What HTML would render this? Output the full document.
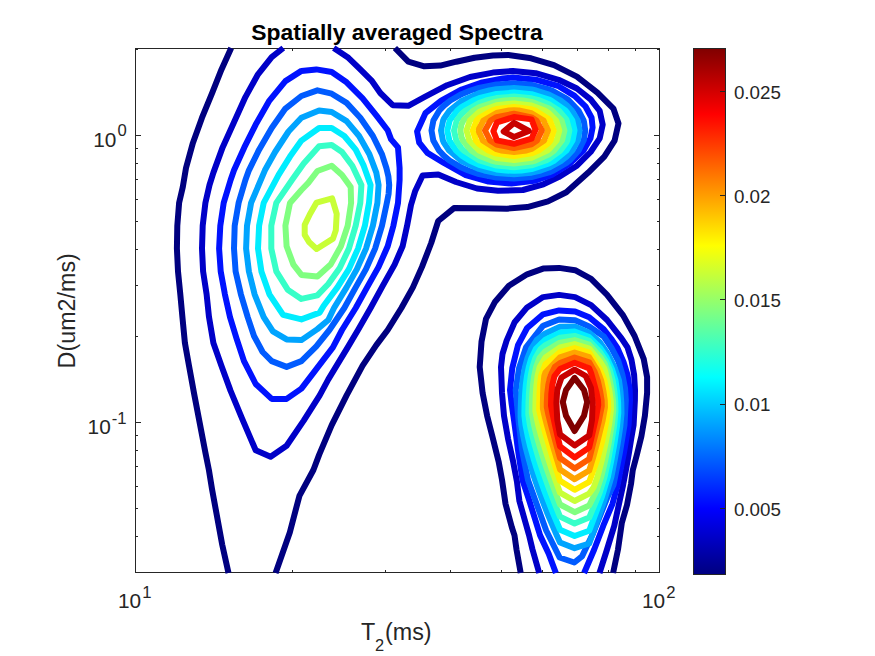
<!DOCTYPE html>
<html><head><meta charset="utf-8"><title>Spatially averaged Spectra</title>
<style>
html,body{margin:0;padding:0;background:#fff;}
body{width:875px;height:656px;overflow:hidden;font-family:"Liberation Sans",sans-serif;}
svg{display:block}
text{font-family:"Liberation Sans",sans-serif;fill:#262626}
.t{font-size:20.83px}
.cb{font-size:18.75px}
.s{font-size:16.67px}
.l{font-size:23.3px}
.sub{font-size:16.4px}
.ttl{font-size:22.9px;font-weight:bold;fill:#000}
.c{fill:none;stroke-width:6;stroke-linejoin:round;stroke-linecap:butt}
</style></head><body>
<svg width="875" height="656" viewBox="0 0 875 656">
<defs>
<linearGradient id="jet" x1="0" y1="0" x2="0" y2="1"><stop offset="0.0000" stop-color="rgb(128, 0, 0)"/><stop offset="0.0312" stop-color="rgb(159, 0, 0)"/><stop offset="0.0625" stop-color="rgb(191, 0, 0)"/><stop offset="0.0938" stop-color="rgb(223, 0, 0)"/><stop offset="0.1250" stop-color="rgb(255, 0, 0)"/><stop offset="0.1562" stop-color="rgb(255, 32, 0)"/><stop offset="0.1875" stop-color="rgb(255, 64, 0)"/><stop offset="0.2188" stop-color="rgb(255, 96, 0)"/><stop offset="0.2500" stop-color="rgb(255, 128, 0)"/><stop offset="0.2812" stop-color="rgb(255, 159, 0)"/><stop offset="0.3125" stop-color="rgb(255, 191, 0)"/><stop offset="0.3438" stop-color="rgb(255, 223, 0)"/><stop offset="0.3750" stop-color="rgb(255, 255, 0)"/><stop offset="0.4062" stop-color="rgb(223, 255, 32)"/><stop offset="0.4375" stop-color="rgb(191, 255, 64)"/><stop offset="0.4688" stop-color="rgb(159, 255, 96)"/><stop offset="0.5000" stop-color="rgb(128, 255, 128)"/><stop offset="0.5312" stop-color="rgb(96, 255, 159)"/><stop offset="0.5625" stop-color="rgb(64, 255, 191)"/><stop offset="0.5938" stop-color="rgb(32, 255, 223)"/><stop offset="0.6250" stop-color="rgb(0, 255, 255)"/><stop offset="0.6562" stop-color="rgb(0, 223, 255)"/><stop offset="0.6875" stop-color="rgb(0, 191, 255)"/><stop offset="0.7188" stop-color="rgb(0, 159, 255)"/><stop offset="0.7500" stop-color="rgb(0, 128, 255)"/><stop offset="0.7812" stop-color="rgb(0, 96, 255)"/><stop offset="0.8125" stop-color="rgb(0, 64, 255)"/><stop offset="0.8438" stop-color="rgb(0, 32, 255)"/><stop offset="0.8750" stop-color="rgb(0, 0, 255)"/><stop offset="0.9062" stop-color="rgb(0, 0, 223)"/><stop offset="0.9375" stop-color="rgb(0, 0, 191)"/><stop offset="0.9688" stop-color="rgb(0, 0, 159)"/><stop offset="1.0000" stop-color="rgb(0, 0, 128)"/></linearGradient>
<clipPath id="ax"><rect x="134.5" y="44.5" width="526.0" height="532.0"/></clipPath>
</defs>
<rect x="0" y="0" width="875" height="656" fill="#fff"/>
<rect x="135.5" y="48.5" width="524.0" height="524.0" fill="none" stroke="#262626" stroke-width="1" shape-rendering="crispEdges"/>
<path d="M292.5 572.5v-2.7M292.5 48.5v2.7M385.5 572.5v-2.7M385.5 48.5v2.7M450.5 572.5v-2.7M450.5 48.5v2.7M501.5 572.5v-2.7M501.5 48.5v2.7M542.5 572.5v-2.7M542.5 48.5v2.7M577.5 572.5v-2.7M577.5 48.5v2.7M608.5 572.5v-2.7M608.5 48.5v2.7M635.5 572.5v-2.7M635.5 48.5v2.7M135.5 572.5h2.7M659.5 572.5h-2.7M135.5 536.5h2.7M659.5 536.5h-2.7M135.5 508.5h2.7M659.5 508.5h-2.7M135.5 486.5h2.7M659.5 486.5h-2.7M135.5 466.5h2.7M659.5 466.5h-2.7M135.5 450.5h2.7M659.5 450.5h-2.7M135.5 435.5h2.7M659.5 435.5h-2.7M135.5 336.5h2.7M659.5 336.5h-2.7M135.5 285.5h2.7M659.5 285.5h-2.7M135.5 249.5h2.7M659.5 249.5h-2.7M135.5 221.5h2.7M659.5 221.5h-2.7M135.5 199.5h2.7M659.5 199.5h-2.7M135.5 179.5h2.7M659.5 179.5h-2.7M135.5 163.5h2.7M659.5 163.5h-2.7M135.5 148.5h2.7M659.5 148.5h-2.7M135.5 49.5h2.7M659.5 49.5h-2.7M135.5 422.5h5.5M659.5 422.5h-5.5M135.5 135.5h5.5M659.5 135.5h-5.5" stroke="#262626" stroke-width="1" fill="none" shape-rendering="crispEdges"/>
<g clip-path="url(#ax)">
<path class="c" stroke="#000080" d="M231.2 48.0 L221.4 69.7 L212.3 92.6 L202.0 117.7 L192.9 142.9 L186.0 168.0 L182.8 187.0 L179.1 202.9 L177.3 225.7 L176.9 248.6 L178.0 271.4 L180.3 294.3 L182.5 318.0 L184.9 342.9 L189.0 365.7 L194.0 393.1 L199.7 422.9 L205.4 452.6 L208.9 470.0 L212.0 489.0 L222.2 544.6 L228.5 573.0"/>
<path class="c" stroke="#000080" d="M394.9 48.0 L408.3 61.7 L424.3 66.3 L440.3 65.6 L456.3 61.7 L474.6 57.8 L492.9 55.5 L508.3 54.9 L531.1 58.3 L554.0 65.1 L576.9 76.6 L597.4 92.6 L613.4 108.6 L618.5 123.4 L614.6 140.6 L604.3 156.6 L588.3 172.6 L566.3 192.3 L548.0 201.4 L527.4 207.1 L506.9 208.7 L481.7 208.3 L454.0 208.1 L438.2 221.0 L431.2 243.0 L422.0 266.9 L412.9 287.4 L401.4 308.0 L387.7 330.0 L376.3 345.1 L362.6 365.7 L346.6 395.4 L331.7 425.1 L319.1 454.9 L313.4 470.0 L299.4 495.9 L289.8 532.4 L275.6 573.0"/>
<path class="c" stroke="#000080" d="M520.7 573.0 L516.5 549.5 L514.5 535.4 L511.9 527.5 L505.5 503.8 L502.0 479.7 L498.6 461.4 L492.9 438.6 L487.1 415.7 L482.6 392.9 L479.7 367.0 L481.5 341.7 L486.0 318.8 L495.1 301.7 L508.9 285.7 L527.1 274.3 L543.1 268.6 L559.1 267.9 L575.1 270.2 L591.1 278.9 L607.1 294.9 L623.1 315.4 L634.6 336.0 L643.7 358.9 L647.1 377.1 L647.1 392.9 L644.9 415.7 L641.4 436.3 L636.9 454.6 L632.7 470.6 L631.0 484.0 L627.0 505.0 L621.8 523.0 L618.0 549.5 L613.1 573.0"/>
<path class="c" stroke="#0000c8" d="M283.3 48.0 L271.7 57.1 L258.0 74.3 L245.4 97.1 L234.0 122.3 L222.6 147.4 L213.4 172.6 L209.5 185.0 L205.4 202.9 L202.7 225.7 L202.0 248.6 L203.1 271.4 L206.6 294.3 L209.0 317.1 L213.4 342.9 L221.4 365.7 L230.6 390.9 L242.0 418.3 L255.7 450.3 L270.6 456.7 L286.6 445.7 L303.7 420.6 L319.7 395.4 L328.3 379.4 L347.7 347.4 L358.0 330.0 L370.6 308.0 L383.1 285.1 L394.6 264.6 L402.6 246.3 L407.1 225.7 L411.0 205.0 L415.1 191.3 L422.6 175.5 L438.3 174.5 L456.0 182.0 L477.0 188.5 L498.0 190.8 L522.9 190.0 L543.4 184.3 L558.6 177.1 L576.9 165.7 L590.6 152.0 L599.7 138.3 L602.7 124.6 L599.7 110.9 L590.6 99.4 L576.9 88.5 L558.6 79.8 L535.7 73.2 L512.9 70.9 L492.9 72.6 L470.0 77.0 L447.1 85.2 L424.3 97.1 L408.3 105.8 L392.7 105.2 L380.3 93.0 L372.1 81.2 L359.8 68.8 L348.4 57.8 L333.7 48.0"/>
<path class="c" stroke="#0000c8" d="M539.2 573.0 L532.5 549.5 L529.1 535.4 L525.6 523.0 L519.4 501.0 L517.0 482.0 L513.0 461.0 L508.0 438.6 L504.0 415.7 L502.0 392.9 L501.0 367.0 L502.5 354.0 L506.6 340.6 L514.6 322.3 L527.1 307.4 L543.1 297.1 L559.1 294.9 L575.1 297.1 L591.1 305.1 L607.1 320.0 L621.5 338.3 L627.5 347.4 L631.5 360.0 L634.1 374.8 L635.0 390.0 L634.9 400.0 L633.6 425.0 L631.0 440.0 L629.0 452.4 L626.3 468.0 L623.1 485.0 L619.0 503.8 L614.3 525.7 L607.0 549.5 L599.5 573.0"/>
<path class="c" stroke="#0012ff" d="M316.3 69.4 L301.4 70.9 L285.4 81.1 L269.4 100.6 L255.7 124.6 L244.3 147.4 L234.0 170.3 L230.6 180.0 L223.7 202.9 L220.3 225.7 L219.1 248.6 L220.7 271.4 L224.9 294.3 L230.0 317.1 L236.5 338.3 L244.0 361.1 L255.7 384.0 L271.7 398.9 L286.6 398.9 L301.4 388.6 L316.3 369.1 L332.9 347.4 L342.0 330.0 L355.7 308.0 L367.1 287.4 L378.6 266.9 L387.7 246.3 L393.4 225.7 L398.0 202.9 L399.6 180.0 L399.6 168.0 L398.0 147.4 L391.1 139.4 L387.7 130.3 L376.3 115.4 L362.6 98.3 L346.6 82.3 L331.7 72.0 Z"/>
<path class="c" stroke="#0012ff" d="M417.1 131.5 L425.4 113.2 L441.2 100.6 L461.7 89.5 L482.3 82.4 L502.9 78.4 L512.9 77.5 L535.7 79.7 L558.6 86.2 L574.6 95.9 L585.4 106.3 L591.6 117.7 L592.6 127.5 L590.5 138.3 L583.2 150.9 L570.0 163.4 L551.7 174.9 L534.3 180.8 L511.4 183.6 L488.6 181.6 L465.7 175.1 L443.9 163.0 L427.4 152.9 L419.2 142.6 Z"/>
<path class="c" stroke="#0012ff" d="M555.9 573.0 L548.7 553.7 L540.1 535.4 L529.1 500.0 L522.5 480.0 L518.0 450.0 L514.0 420.0 L511.5 403.0 L510.0 390.0 L512.3 368.0 L518.0 345.1 L527.1 328.0 L543.1 314.3 L559.1 310.4 L575.1 311.5 L589.2 317.2 L603.8 329.4 L611.0 338.5 L617.4 348.0 L623.5 362.0 L627.5 374.8 L629.7 390.0 L630.0 400.0 L628.6 425.0 L624.0 452.4 L620.5 470.0 L617.6 485.0 L612.5 503.8 L603.3 525.7 L594.2 549.5 L584.1 573.0"/>
<path class="c" stroke="#005bff" d="M317.4 90.3 L301.4 96.0 L285.4 108.6 L271.7 128.0 L259.1 149.7 L248.9 170.3 L245.4 180.0 L238.6 202.9 L234.7 225.7 L234.0 248.6 L235.6 271.4 L240.9 294.3 L247.7 317.1 L254.0 336.0 L262.6 352.0 L271.7 361.1 L286.6 366.9 L301.4 361.1 L316.3 346.3 L329.4 330.0 L344.3 308.0 L355.7 287.4 L366.0 269.1 L375.1 248.6 L382.0 225.7 L386.6 204.0 L388.6 194.0 L389.2 185.0 L388.4 176.5 L386.4 168.0 L382.0 154.3 L372.9 136.0 L360.3 117.7 L346.6 102.9 L331.7 93.7 Z"/>
<path class="c" stroke="#005bff" d="M585.2 130.5 L584.0 139.3 L583.6 140.5 L578.7 150.5 L569.7 160.5 L566.5 163.0 L553.5 170.5 L549.0 172.4 L531.5 177.1 L514.0 178.6 L496.5 177.5 L479.0 174.1 L468.2 170.5 L461.5 167.6 L449.5 160.5 L444.0 155.9 L439.0 150.5 L433.3 140.5 L431.5 130.5 L433.4 120.5 L439.3 110.5 L444.0 105.6 L450.4 100.5 L461.5 94.2 L470.5 90.5 L479.0 87.9 L496.5 84.5 L514.0 83.4 L531.5 84.8 L549.0 89.5 L551.6 90.5 L566.5 98.7 L568.9 100.5 L578.4 110.5 L583.6 120.5 L584.0 121.9 Z"/>
<path class="c" stroke="#005bff" d="M574.3 562.5 L559.6 557.5 L546.2 530.5 L535.2 500.0 L528.0 480.0 L522.0 450.0 L518.5 420.0 L516.9 403.0 L515.7 390.0 L519.1 368.0 L526.0 347.4 L543.1 325.7 L559.1 319.5 L575.1 320.3 L589.2 326.5 L603.8 336.5 L611.5 348.0 L618.3 361.0 L622.4 374.8 L625.0 388.0 L625.8 400.0 L624.5 425.0 L619.9 452.4 L616.5 470.0 L613.5 485.0 L607.0 498.3 L599.7 516.6 L592.4 534.8 L582.0 556.4 Z"/>
<path class="c" stroke="#00a4ff" d="M319.1 110.4 L301.4 117.8 L288.5 131.5 L275.1 152.0 L264.9 170.3 L251.1 202.9 L247.0 225.7 L246.1 248.6 L248.9 271.4 L254.6 294.3 L263.7 317.1 L272.9 331.4 L286.6 339.4 L301.4 340.1 L317.4 329.1 L328.3 320.0 L334.0 308.0 L346.6 287.4 L356.9 269.1 L366.0 248.6 L372.9 225.7 L377.4 202.9 L378.6 185.0 L376.3 172.6 L369.4 154.3 L359.1 136.0 L346.6 121.1 L331.7 112.0 Z"/>
<path class="c" stroke="#00a4ff" d="M579.5 130.5 L577.8 140.5 L572.3 150.5 L566.5 156.7 L561.7 160.5 L549.0 167.5 L540.7 170.5 L531.5 172.7 L514.0 174.3 L496.5 173.0 L484.3 170.5 L479.0 168.9 L461.5 160.9 L449.1 150.5 L444.0 142.9 L442.9 140.5 L441.0 130.5 L443.1 120.5 L444.0 118.5 L449.6 110.5 L461.5 101.0 L479.0 93.2 L489.3 90.5 L496.5 89.2 L514.0 88.0 L531.5 89.5 L536.1 90.5 L549.0 94.6 L560.4 100.5 L566.5 105.1 L571.8 110.5 L577.7 120.5 Z"/>
<path class="c" stroke="#00a4ff" d="M574.6 326.4 L589.2 332.8 L592.9 336.1 L600.2 342.6 L607.4 353.1 L614.7 367.6 L619.0 380.5 L620.5 391.7 L621.3 402.8 L621.5 413.6 L620.2 427.4 L617.6 444.0 L614.6 460.5 L611.4 476.9 L604.6 499.6 L594.4 528.9 L589.2 543.5 L574.6 548.2 L560.0 542.5 L556.6 535.0 L551.9 524.0 L547.3 513.0 L545.4 508.2 L543.0 502.0 L538.9 491.0 L535.1 480.0 L531.6 469.0 L530.8 466.4 L528.4 458.0 L525.5 447.0 L523.2 436.0 L521.3 425.0 L520.6 417.0 L520.6 412.0 L520.9 403.0 L521.3 394.0 L522.1 385.0 L523.3 376.0 L525.0 367.0 L527.5 358.0 L531.1 349.0 L536.9 340.0 L545.4 333.5 L560.0 326.7 Z"/>
<path class="c" stroke="#00edff" d="M319.1 128.0 L301.4 140.6 L290.0 156.6 L278.6 174.9 L263.7 202.9 L259.1 225.7 L258.0 248.6 L261.4 271.4 L269.4 294.3 L283.1 314.9 L301.4 319.4 L319.7 312.6 L323.7 305.7 L337.4 287.4 L348.9 269.1 L358.0 248.6 L364.9 225.7 L369.0 202.9 L370.6 185.0 L363.7 165.7 L355.7 149.7 L344.3 136.0 L331.7 128.0 Z"/>
<path class="c" stroke="#00edff" d="M574.5 130.5 L572.6 140.5 L566.5 150.5 L554.4 160.5 L549.0 163.4 L531.5 169.1 L521.4 170.5 L514.0 170.8 L505.9 170.5 L496.5 169.4 L479.0 164.8 L469.5 160.5 L461.5 155.4 L456.1 150.5 L449.4 140.5 L447.3 130.5 L449.7 120.5 L457.3 110.5 L461.5 107.1 L473.2 100.5 L479.0 98.2 L496.5 93.9 L514.0 92.6 L531.5 94.2 L549.0 99.6 L551.0 100.5 L565.4 110.5 L566.5 111.7 L572.3 120.5 Z"/>
<path class="c" stroke="#00edff" d="M574.6 331.5 L589.2 337.1 L592.9 340.7 L600.2 347.8 L606.5 357.2 L611.9 369.0 L615.5 380.5 L617.1 391.7 L618.1 402.4 L618.3 412.6 L617.0 426.3 L614.4 443.7 L611.3 460.5 L607.9 476.9 L602.0 496.4 L593.5 519.2 L589.2 530.7 L574.6 536.0 L560.0 529.7 L557.6 524.0 L553.0 513.0 L548.6 502.0 L545.4 493.6 L544.4 491.0 L540.5 480.0 L536.8 469.0 L533.4 458.0 L530.8 448.8 L530.3 447.0 L527.7 436.0 L525.5 425.0 L524.4 415.6 L524.4 412.0 L524.6 403.0 L525.1 394.0 L525.8 385.0 L527.0 376.0 L528.8 367.0 L530.8 360.0 L531.5 358.0 L535.8 349.0 L545.4 339.7 L560.0 332.6 Z"/>
<path class="c" stroke="#37ffc8" d="M319.1 146.3 L303.7 163.4 L292.3 179.4 L276.3 202.9 L271.3 225.7 L271.3 248.6 L276.3 271.4 L287.7 289.7 L301.4 298.9 L317.4 295.4 L328.3 284.0 L339.7 268.0 L348.9 248.6 L355.7 225.7 L360.3 202.9 L361.4 185.0 L352.3 165.7 L342.0 152.0 L331.7 145.1 Z"/>
<path class="c" stroke="#37ffc8" d="M569.4 130.5 L567.3 140.5 L566.5 142.2 L560.4 150.5 L549.0 158.9 L545.9 160.5 L531.5 165.3 L514.0 167.2 L496.5 165.6 L479.4 160.5 L463.7 150.5 L461.5 148.3 L456.3 140.5 L454.0 130.5 L456.7 120.5 L461.5 114.1 L465.6 110.5 L479.0 103.0 L486.1 100.5 L496.5 98.1 L514.0 96.6 L531.5 98.3 L539.8 100.5 L549.0 104.2 L558.7 110.5 L566.5 119.7 Z"/>
<path class="c" stroke="#37ffc8" d="M574.6 335.9 L589.2 340.9 L592.9 344.7 L600.2 352.4 L605.8 360.8 L609.9 370.2 L612.7 380.5 L614.4 391.7 L615.3 402.1 L615.5 411.5 L614.2 425.2 L611.2 443.3 L608.1 460.5 L604.6 476.9 L599.5 493.1 L592.6 509.4 L589.2 517.6 L574.6 523.6 L560.0 516.6 L558.5 513.0 L554.1 502.0 L549.9 491.0 L545.9 480.0 L545.4 478.6 L542.1 469.0 L538.5 458.0 L535.3 447.0 L532.4 436.0 L530.8 429.4 L529.9 425.0 L528.3 414.2 L528.5 403.0 L528.9 394.0 L529.6 385.0 L530.8 375.7 L532.5 367.0 L535.4 358.0 L540.6 349.0 L545.4 345.2 L560.0 337.7 Z"/>
<path class="c" stroke="#80ff80" d="M317.4 171.0 L308.3 182.9 L301.4 190.0 L290.0 202.9 L285.4 225.7 L286.6 246.3 L293.4 264.6 L301.4 274.9 L317.4 276.5 L330.6 264.6 L340.9 246.3 L347.7 225.7 L351.1 202.9 L350.7 187.0 L342.0 174.9 L331.7 165.7 Z"/>
<path class="c" stroke="#80ff80" d="M564.4 130.5 L562.0 140.5 L554.2 150.5 L549.0 154.3 L535.3 160.5 L531.5 161.5 L514.0 163.6 L496.5 161.8 L491.4 160.5 L479.0 155.6 L471.3 150.5 L462.9 140.5 L461.5 137.1 L460.4 130.5 L461.5 124.4 L463.4 120.5 L473.5 110.5 L479.0 107.4 L496.5 101.7 L504.3 100.5 L514.0 100.0 L523.1 100.5 L531.5 101.9 L549.0 108.6 L552.0 110.5 L561.6 120.5 Z"/>
<path class="c" stroke="#80ff80" d="M574.6 340.1 L589.2 344.7 L592.9 348.8 L600.2 356.9 L605.0 364.4 L607.5 371.4 L609.8 380.5 L611.9 391.7 L613.1 401.7 L613.3 410.5 L611.8 424.2 L608.7 443.0 L605.2 460.5 L601.2 476.9 L596.8 490.1 L591.7 500.4 L589.2 505.5 L574.6 512.2 L560.0 504.5 L554.8 491.0 L550.8 480.0 L546.9 469.0 L545.4 464.5 L543.3 458.0 L539.9 447.0 L536.7 436.0 L534.0 425.0 L531.8 412.8 L531.9 403.0 L532.3 394.0 L533.0 385.0 L534.2 376.0 L536.1 367.0 L539.5 358.0 L545.4 351.3 L560.0 342.7 Z"/>
<path class="c" stroke="#c8ff37" d="M332.1 198.4 L316.6 202.6 L310.0 214.0 L304.7 224.9 L304.7 234.9 L309.3 242.3 L316.6 249.0 L333.0 238.6 L335.8 230.4 L336.7 213.9 Z"/>
<path class="c" stroke="#c8ff37" d="M559.3 130.5 L556.6 140.5 L549.0 149.2 L547.3 150.5 L531.5 157.7 L514.0 160.0 L496.5 157.9 L479.1 150.5 L469.3 140.5 L466.5 130.5 L469.9 120.5 L479.0 112.2 L482.0 110.5 L496.5 105.3 L514.0 103.4 L531.5 105.5 L544.6 110.5 L549.0 113.3 L556.1 120.5 Z"/>
<path class="c" stroke="#c8ff37" d="M574.6 344.1 L589.2 348.5 L592.9 353.0 L600.2 361.9 L604.4 368.5 L605.5 372.7 L607.2 380.5 L609.5 391.7 L610.8 401.4 L611.0 409.4 L609.3 423.1 L605.7 442.6 L601.7 460.5 L597.4 476.9 L593.7 487.2 L590.7 491.5 L589.2 493.6 L574.6 501.0 L560.0 492.6 L555.4 480.0 L551.6 469.0 L548.0 458.0 L545.4 450.0 L544.5 447.0 L541.2 436.0 L538.2 425.0 L535.4 411.4 L535.5 403.0 L535.8 394.0 L536.5 385.0 L537.6 376.0 L539.7 367.0 L545.4 357.5 L560.0 347.4 Z"/>
<path class="c" stroke="#ffed00" d="M553.7 130.5 L550.5 140.5 L549.0 142.5 L538.6 150.5 L531.5 153.4 L514.0 156.0 L496.5 153.6 L488.4 150.5 L479.0 144.0 L476.0 140.5 L472.7 130.5 L476.6 120.5 L479.0 118.0 L492.1 110.5 L496.5 109.1 L514.0 106.9 L531.5 109.3 L535.1 110.5 L549.0 119.4 L550.0 120.5 Z"/>
<path class="c" stroke="#ffed00" d="M574.6 348.1 L589.2 352.7 L592.7 358.2 L599.7 369.3 L604.4 380.5 L606.7 391.7 L608.0 401.0 L608.2 408.4 L606.2 422.1 L601.9 442.3 L597.1 459.7 L591.9 474.4 L589.2 481.8 L574.6 489.8 L560.0 480.8 L556.2 469.0 L552.8 458.0 L549.4 447.0 L546.1 436.0 L545.4 433.6 L543.0 425.0 L540.1 414.0 L539.2 410.0 L539.3 403.0 L539.5 394.0 L540.0 385.0 L541.1 376.0 L545.4 364.4 L560.0 352.2 Z"/>
<path class="c" stroke="#ffa400" d="M548.0 130.5 L544.1 140.5 L531.5 148.9 L526.5 150.5 L514.0 152.0 L501.1 150.5 L496.5 149.1 L482.9 140.5 L479.0 132.1 L478.9 130.5 L479.0 129.0 L483.5 120.5 L496.5 113.0 L509.1 110.5 L514.0 110.3 L518.8 110.5 L531.5 113.2 L543.5 120.5 Z"/>
<path class="c" stroke="#ffa400" d="M574.6 352.6 L589.2 357.2 L591.9 361.6 L597.3 370.4 L601.2 380.5 L603.5 391.7 L604.8 400.7 L605.0 407.3 L602.5 421.1 L597.3 441.9 L593.3 456.9 L590.6 466.0 L589.2 470.5 L574.6 479.2 L560.0 469.5 L556.5 458.0 L553.2 447.0 L550.0 436.0 L546.9 425.0 L545.4 419.2 L544.1 414.0 L542.9 408.6 L542.9 403.0 L543.1 394.0 L543.4 385.0 L544.3 376.0 L545.4 372.6 L560.0 357.4 Z"/>
<path class="c" stroke="#ff5b00" d="M541.9 130.5 L537.0 140.5 L531.5 144.2 L514.0 148.1 L496.5 144.5 L490.1 140.5 L485.0 130.5 L490.7 120.5 L496.5 117.1 L514.0 113.7 L531.5 117.4 L536.4 120.5 Z"/>
<path class="c" stroke="#ff5b00" d="M574.6 357.5 L589.2 362.3 L591.0 365.4 L594.6 371.7 L597.7 380.5 L600.2 391.7 L601.6 400.3 L601.8 406.2 L598.7 421.7 L592.4 446.6 L589.2 459.0 L574.6 468.4 L560.0 458.0 L556.9 447.0 L553.9 436.0 L551.0 425.0 L548.2 414.0 L546.8 407.2 L546.8 403.0 L547.2 394.0 L548.3 385.0 L550.3 376.0 L554.8 367.0 L560.0 363.1 Z"/>
<path class="c" stroke="#ff1200" d="M514.0 117.0 L497.0 122.4 L493.4 131.2 L497.0 140.4 L514.0 143.8 L531.5 138.7 L535.5 129.8 L531.5 119.4 Z"/>
<path class="c" stroke="#ff1200" d="M574.6 362.7 L589.2 368.4 L589.8 370.0 L591.1 373.2 L593.2 380.5 L596.3 391.7 L598.0 400.0 L598.2 405.2 L596.0 417.7 L591.5 437.5 L589.2 447.4 L574.6 457.4 L560.0 446.4 L557.5 436.0 L555.0 425.0 L552.6 414.0 L551.0 405.8 L551.3 394.0 L552.3 385.0 L554.5 376.0 L560.0 369.0 Z"/>
<path class="c" stroke="#c80000" d="M514.0 122.9 L503.7 131.6 L514.0 137.0 L528.9 131.0 Z"/>
<path class="c" stroke="#c80000" d="M574.6 369.7 L561.5 377.5 L557.2 390.0 L556.4 403.0 L557.3 420.0 L560.0 434.4 L574.6 445.4 L589.2 435.4 L592.0 420.0 L592.6 403.0 L591.0 388.0 L585.8 376.0 Z"/>
<path class="c" stroke="#800000" d="M574.6 377.8 L566.0 390.0 L562.8 402.0 L566.0 415.7 L574.6 431.0 L584.0 415.7 L587.2 402.0 L584.0 390.0 Z"/>
</g>
<text x="397" y="40" text-anchor="middle" class="ttl">Spatially averaged Spectra</text>
<text x="93.2" y="146.6" class="t">10</text><text x="117.4" y="136.4" class="s">0</text>
<text x="87.6" y="434" class="t">10</text><text x="111.8" y="424.2" class="s">-1</text>
<text x="118" y="608.4" class="t">10</text><text x="142.3" y="597.8" class="s">1</text>
<text x="642" y="608.4" class="t">10</text><text x="666.3" y="597.8" class="s">2</text>
<text x="361.0" y="639.8" class="l">T</text><text x="375" y="650.5" class="sub">2</text><text x="385.0" y="639.8" class="l">(ms)</text>
<text transform="translate(75.0,310.8) rotate(-90)" text-anchor="middle" class="l">D(um2/ms)</text>
<rect x="693.5" y="48.5" width="32.0" height="526.0" fill="url(#jet)" stroke="#262626" stroke-width="1" shape-rendering="crispEdges"/>
<path d="M725.5 508.5h-5.5M725.5 404.5h-5.5M725.5 299.5h-5.5M725.5 195.5h-5.5M725.5 91.5h-5.5" stroke="#262626" stroke-width="1" shape-rendering="crispEdges"/>
<text x="733.9" y="515.5" class="cb">0.005</text><text x="733.9" y="411.2" class="cb">0.01</text><text x="733.9" y="307.0" class="cb">0.015</text><text x="733.9" y="202.7" class="cb">0.02</text><text x="733.9" y="98.5" class="cb">0.025</text>
</svg>
</body></html>
